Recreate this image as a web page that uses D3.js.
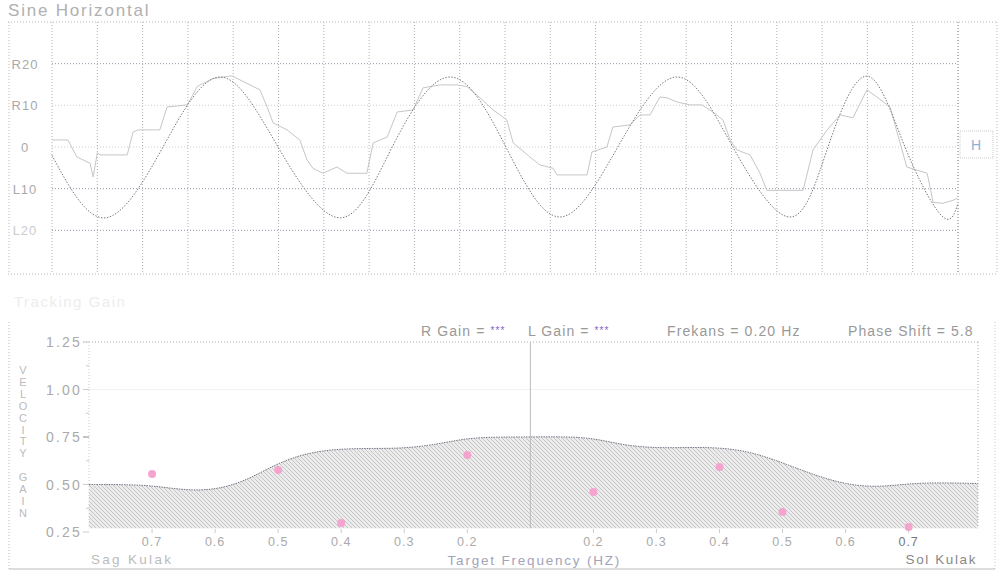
<!DOCTYPE html>
<html>
<head>
<meta charset="utf-8">
<script src="https://cdn.jsdelivr.net/npm/d3@7"></script>
<style>
body { margin: 0; background: #fff; }
svg { display: block; font-family: "Liberation Sans", Arial, sans-serif; }
</style>
</head>
<body>
<svg width="998" height="576"></svg>
<script>
// sine panel: time in grid columns (0-20), position in degrees (+ = R, - = L)
var targetTime = [0, 1.17, 2.45, 3.71, 4.99, 6.36, 7.51, 8.79, 10.02, 11.21, 12.49, 13.8, 15.03, 16.29, 17.13, 17.99, 18.83, 19.65, 20];
var targetPos = [-2, -17, 0, 16.8, 0, -17, 0, 16.8, 0, -16.8, 0, 16.8, 0, -16.8, 0, 17, 0, -16.6, -13.5];

var eyeTime = [0, 0.35, 0.55, 0.84, 0.91, 1.0, 1.06, 1.66, 1.79, 1.9, 2.38, 2.54, 2.98, 3.05, 3.2, 3.55, 3.97, 4.15, 4.59, 4.75,
  4.88, 5.19, 5.47, 5.63, 5.76, 5.98, 6.29, 6.51, 6.95, 7.09, 7.4, 7.62, 7.97, 8.19, 8.57, 8.94, 9.16, 9.45, 9.74, 10.04,
  10.18, 10.55, 10.77, 11.06, 11.15, 11.81, 11.92, 12.25, 12.38, 12.76, 12.98, 13.2, 13.42, 13.58, 13.8, 14.08, 14.35, 14.59, 14.81, 14.97,
  15.12, 15.41, 15.63, 15.78, 16.07, 16.58, 16.8, 17.11, 17.4, 17.68, 17.99, 18.21, 18.5, 18.87, 19.32, 19.45, 19.67, 19.89, 19.98];
var eyePos = [1.7, 1.7, -2.4, -3.9, -7.2, -1.4, -1.9, -1.9, 3.6, 4.1, 4.1, 9.6, 10.1, 11.3, 14.5, 16.4, 17.1, 16.1, 13.7, 9.6,
  5.8, 4.1, 1.7, -3.1, -5.1, -6.3, -4.8, -6.3, -6.3, 1.0, 2.4, 8.4, 8.9, 14.2, 14.9, 14.9, 14.5, 11.8, 8.9, 6.5,
  1.0, -2.4, -4.3, -5.1, -6.7, -6.7, -1.2, 0, 4.8, 5.3, 7.7, 7.7, 12.0, 11.8, 10.8, 10.1, 10.1, 8.4, 6.5, 1.7,
  -0.7, -1.9, -6.3, -10.4, -10.4, -10.4, -0.7, 4.1, 7.7, 7.0, 13.7, 12.0, 9.6, -4.8, -6.3, -13.3, -13.5, -12.8, -12.3];

var sineTicks = [20, 10, 0, -10, -20];
var sineTickLabels = ['R20', 'R10', '0', 'L10', 'L20'];

// gain panel: slot -7..7, left = Sag Kulak, right = Sol Kulak
var gainTicks = [0.25, 0.5, 0.75, 1.0, 1.25];
var gainMinorTicks = [0.375, 0.625, 0.875, 1.125];
var freqSlots = [-6, -5, -4, -3, -2, -1, 1, 2, 3, 4, 5, 6];
var freqLabels = ['0.7', '0.6', '0.5', '0.4', '0.3', '0.2', '0.2', '0.3', '0.4', '0.5', '0.6', '0.7'];

var normSlot = [-7, -6.5, -6, -5.5, -5, -4.5, -4, -3.5, -3, -2.5, -2, -1.5, -1, -0.5, 0, 0.5, 1, 1.5, 2, 2.5, 3, 3.5, 4, 4.5, 5, 5.5, 6, 6.5, 7.1];
var normGain = [0.5, 0.5, 0.495, 0.47, 0.47, 0.52, 0.615, 0.67, 0.688, 0.69, 0.69, 0.71, 0.745, 0.75, 0.75, 0.752, 0.745, 0.705, 0.692, 0.695, 0.695, 0.672, 0.615, 0.55, 0.5, 0.485, 0.505, 0.51, 0.505];
var normBase = 0.27;

var gainSlot = [-6, -4, -3, -1, 1, 3, 4, 6];
var gainValue = [0.555, 0.576, 0.297, 0.655, 0.46, 0.592, 0.355, 0.276];

var svg = d3.select('svg');
drawSinePanel();
drawGainPanel();

function zip(a, b){
  return a.map(function(v, i){ return [v, b[i]]; });
}

function drawSinePanel(){
  var x = d3.scaleLinear().domain([0, 20]).range([52, 958]);
  var y = d3.scaleLinear().domain([-30, 30]).range([272, 22]);
  var g = svg.append('g');

  g.append('text').attr('x', 8).attr('y', 16)
    .attr('font-size', 17).attr('letter-spacing', 1.8).attr('fill', '#b0b0b0')
    .text('Sine Horizontal');

  // frame
  var frame = [[8, 22, 997, 22], [8, 274, 997, 274], [9, 22, 9, 274], [997, 22, 997, 274]];
  g.selectAll('.frame').data(frame).enter().append('line')
    .attr('x1', function(d){ return d[0]; }).attr('y1', function(d){ return d[1]; })
    .attr('x2', function(d){ return d[2]; }).attr('y2', function(d){ return d[3]; })
    .attr('stroke', '#bbb').attr('stroke-dasharray', '1,2');

  // grid
  g.selectAll('.vgrid').data(d3.range(0, 21)).enter().append('line')
    .attr('x1', function(d){ return x(d); }).attr('x2', function(d){ return x(d); })
    .attr('y1', 22).attr('y2', 274)
    .attr('stroke', function(d){ return d === 20 ? '#777' : '#b0b0b0'; })
    .attr('stroke-dasharray', '1,2');
  g.selectAll('.hgrid').data(sineTicks).enter().append('line')
    .attr('x1', x(0)).attr('x2', x(20))
    .attr('y1', function(d){ return y(d); }).attr('y2', function(d){ return y(d); })
    .attr('stroke', function(d){ return (d === 10 || d === 0) ? '#d0d0d0' : '#8f96a8'; })
    .attr('stroke-dasharray', '1,2');

  g.selectAll('.ylab').data(sineTicks).enter().append('text')
    .attr('x', 25).attr('y', function(d){ return y(d) + 5; })
    .attr('text-anchor', 'middle').attr('font-size', 13).attr('letter-spacing', 1)
    .attr('fill', function(d, i){ return i === 4 ? '#ccc' : '#aaa'; })
    .text(function(d, i){ return sineTickLabels[i]; });

  // eye response
  g.append('path').datum(zip(eyeTime, eyePos))
    .attr('fill', 'none').attr('stroke', '#c6c6c6').attr('stroke-width', 1)
    .attr('d', d3.line().x(function(d){ return x(d[0]); }).y(function(d){ return y(d[1]); }));

  // target
  g.append('path').datum(zip(targetTime, targetPos))
    .attr('fill', 'none').attr('stroke', '#7a7a7a').attr('stroke-width', 1)
    .attr('stroke-dasharray', '1.5,1.5')
    .attr('d', d3.line().curve(d3.curveNatural).x(function(d){ return x(d[0]); }).y(function(d){ return y(d[1]); }));

  // H box
  g.append('rect').attr('x', 960).attr('y', 131).attr('width', 33).attr('height', 27)
    .attr('fill', 'none').attr('stroke', '#ccc').attr('stroke-dasharray', '1,1');
  g.append('text').attr('x', 976).attr('y', 150).attr('text-anchor', 'middle')
    .attr('font-size', 14).attr('fill', '#8fb0d8').text('H');
}

function drawGainPanel(){
  var x = d3.scaleLinear().domain([-7, 7.1]).range([89, 978]);
  var y = d3.scaleLinear().domain([0.25, 1.25]).range([532, 342]);
  var g = svg.append('g');

  var defs = svg.append('defs');
  var pat = defs.append('pattern').attr('id', 'hatch')
    .attr('patternUnits', 'userSpaceOnUse').attr('width', 4).attr('height', 4);
  pat.append('rect').attr('width', 4).attr('height', 4).attr('fill', '#ececec');
  pat.append('path').attr('d', 'M-1,-1L5,5M3,-1L5,1M-1,3L1,5')
    .attr('stroke', '#b4b4b4').attr('stroke-width', 0.7);

  g.append('text').attr('x', 14).attr('y', 307)
    .attr('font-size', 15).attr('letter-spacing', 1.5).attr('fill', '#ededed')
    .text('Tracking Gain');

  // panel frame
  g.append('line').attr('x1', 9).attr('x2', 9).attr('y1', 322).attr('y2', 569)
    .attr('stroke', '#bbb').attr('stroke-dasharray', '1,2');
  g.append('line').attr('x1', 995).attr('x2', 995).attr('y1', 322).attr('y2', 569)
    .attr('stroke', '#ccc').attr('stroke-dasharray', '1,2');
  g.append('line').attr('x1', 9).attr('x2', 995).attr('y1', 569).attr('y2', 569)
    .attr('stroke', '#bbb');

  // area
  g.append('path').datum(zip(normSlot, normGain))
    .attr('fill', 'url(#hatch)')
    .attr('d', d3.area().curve(d3.curveBasis)
      .x(function(d){ return x(d[0]); })
      .y0(y(normBase))
      .y1(function(d){ return y(d[1]); }));
  g.append('path').datum(zip(normSlot, normGain))
    .attr('fill', 'none').attr('stroke', '#757585').attr('stroke-dasharray', '1.5,1')
    .attr('d', d3.line().curve(d3.curveBasis)
      .x(function(d){ return x(d[0]); }).y(function(d){ return y(d[1]); }));

  // plot frame
  g.append('line').attr('x1', 83).attr('x2', x(7.1)).attr('y1', y(1.25)).attr('y2', y(1.25))
    .attr('stroke', '#aaa').attr('stroke-dasharray', '1,2');
  g.append('line').attr('x1', x(7.1)).attr('x2', x(7.1)).attr('y1', y(1.25)).attr('y2', y(normBase))
    .attr('stroke', '#aaa').attr('stroke-dasharray', '1,2');
  g.append('line').attr('x1', x(-7)).attr('x2', x(-7)).attr('y1', y(1.25)).attr('y2', y(normBase))
    .attr('stroke', '#ccc').attr('stroke-dasharray', '1,2');
  g.append('line').attr('x1', x(-7)).attr('x2', x(7.1)).attr('y1', y(1)).attr('y2', y(1))
    .attr('stroke', '#f2f2f2');
  g.append('line').attr('x1', x(0)).attr('x2', x(0)).attr('y1', y(1.25)).attr('y2', y(normBase))
    .attr('stroke', '#bbb');

  // y axis
  g.selectAll('.ytick').data(gainTicks).enter().append('line')
    .attr('x1', 83).attr('x2', 89)
    .attr('y1', function(d){ return y(d); }).attr('y2', function(d){ return y(d); })
    .attr('stroke', function(d){ return d === 0.75 ? '#888' : '#ccc'; });
  g.selectAll('.ymtick').data(gainMinorTicks).enter().append('line')
    .attr('x1', 86).attr('x2', 89)
    .attr('y1', function(d){ return y(d); }).attr('y2', function(d){ return y(d); })
    .attr('stroke', '#ccc');
  g.selectAll('.ylab').data(gainTicks).enter().append('text')
    .attr('x', 82).attr('y', function(d){ return y(d) + 5; })
    .attr('text-anchor', 'end').attr('font-size', 14).attr('letter-spacing', 2.2)
    .attr('fill', '#aaa')
    .text(function(d){ return d3.format('.2f')(d); });

  var title = 'VELOCITY GAIN'.split('');
  g.selectAll('.ytitle').data(title).enter().append('text')
    .attr('x', 23).attr('y', function(d, i){ return 374 + i * 11.9; })
    .attr('text-anchor', 'middle').attr('font-size', 11).attr('fill', '#bbb')
    .text(function(d){ return d; });

  // x axis
  g.selectAll('.xtick').data(freqSlots).enter().append('line')
    .attr('x1', function(d){ return x(d); }).attr('x2', function(d){ return x(d); })
    .attr('y1', 529).attr('y2', 533).attr('stroke', '#ccc');
  g.selectAll('.xlab').data(freqSlots).enter().append('text')
    .attr('x', function(d){ return x(d); }).attr('y', 546)
    .attr('text-anchor', 'middle').attr('font-size', 12.5).attr('letter-spacing', 1)
    .attr('fill', function(d){ return d === 6 ? '#777' : '#aaa'; })
    .text(function(d, i){ return freqLabels[i]; });

  g.append('text').attr('x', 91).attr('y', 564)
    .attr('font-size', 13.5).attr('letter-spacing', 2.3).attr('fill', '#bbb').text('Sag Kulak');
  g.append('text').attr('x', 977).attr('y', 564).attr('text-anchor', 'end')
    .attr('font-size', 13.5).attr('letter-spacing', 1.6).attr('fill', '#888').text('Sol Kulak');
  g.append('text').attr('x', x(0) + 4).attr('y', 565).attr('text-anchor', 'middle')
    .attr('font-size', 13.5).attr('letter-spacing', 1.8).attr('fill', '#a4a2b8')
    .text('Target Frequency (HZ)');

  // header
  var header = [
    { x: 421, label: 'R Gain = ', value: '***' },
    { x: 528, label: 'L Gain = ', value: '***' },
    { x: 667, label: 'Frekans = 0.20 Hz', value: '' },
    { x: 848, label: 'Phase Shift = 5.8', value: '' }
  ];
  var ht = g.selectAll('.head').data(header).enter().append('text')
    .attr('x', function(d){ return d.x; }).attr('y', 336)
    .attr('font-size', 14).attr('letter-spacing', 1.1).attr('fill', '#999');
  ht.append('tspan').text(function(d){ return d.label; });
  ht.append('tspan').attr('fill', '#8866cc').attr('font-size', 10).attr('dy', -2)
    .text(function(d){ return d.value; });

  // measured gains
  g.selectAll('.dot').data(zip(gainSlot, gainValue)).enter().append('circle')
    .attr('cx', function(d){ return x(d[0]); })
    .attr('cy', function(d){ return y(d[1]); })
    .attr('r', 4).attr('fill', '#f5a3cf');
}
</script>
</body>
</html>
